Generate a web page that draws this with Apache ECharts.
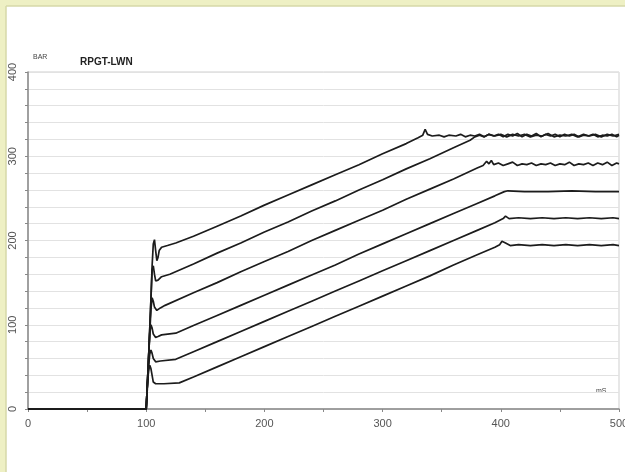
<!DOCTYPE html>
<html><head><meta charset="utf-8">
<script src="https://cdn.jsdelivr.net/npm/echarts@6/dist/echarts.min.js"></script>
<style>html,body{margin:0;padding:0;background:#fff;}#c{width:625px;height:472px;}</style>
</head><body><div id="c"></div>
<script>
const title = 'RPGT-LWN';
const yUnit = 'BAR';
const xUnit = 'mS';
const xTicks = [0, 100, 200, 300, 400, 500];
const yTicks = [0, 100, 200, 300, 400];

const s1 = [[0,0],[100,0],[102,60],[104,130],[105,170],[106,196],[107,201],[108,188],[109,176],[110,180],[111,188],[113,192],[118,194],[125,197],[140,205],[160,217],[180,229],[200,242],[220,254],[240,266],[260,278],[280,290],[300,303],[320,315],[330,322],[334,325],[336,332],[338,326],[342,324],[348,325],[352,323],[356,325],[362,324],[366,326],[370,323],[374,325],[378,324],[382,326],[386,323],[390,326],[394,324],[398,326],[402,323],[406,326],[410,324],[414,327],[418,323],[422,326],[426,324],[430,327],[434,323],[438,326],[442,324],[446,326],[450,323],[454,326],[458,324],[462,326],[466,323],[470,325],[474,324],[478,326],[482,323],[486,325],[490,324],[494,326],[498,323],[500,325]];
const s2 = [[0,0],[100,0],[102,60],[104,130],[105,165],[106,170],[107,160],[108,152],[110,153],[113,157],[120,160],[140,172],[160,185],[180,197],[200,210],[220,222],[240,235],[260,247],[280,260],[300,272],[320,285],[340,297],[360,310],[374,319],[378,323],[382,325],[386,323],[390,326],[395,324],[400,326],[405,323],[410,326],[415,324],[420,326],[425,323],[430,325],[435,324],[440,327],[445,323],[450,325],[455,324],[460,326],[465,323],[470,326],[475,324],[480,326],[485,323],[490,326],[495,324],[500,326]];
const s3 = [[0,0],[100,0],[102,60],[104,118],[105,132],[106,128],[107,121],[109,117],[112,120],[116,123],[140,138],[160,150],[180,163],[200,175],[220,187],[240,200],[260,212],[280,224],[300,236],[320,249],[340,261],[360,273],[380,286],[385,289],[388,294],[390,291],[392,295],[394,290],[398,292],[402,289],[406,291],[410,293],[414,289],[418,291],[422,290],[426,292],[430,289],[434,291],[438,290],[442,292],[446,289],[450,291],[454,290],[458,293],[462,289],[466,291],[470,290],[474,292],[478,289],[482,292],[486,290],[490,293],[494,289],[498,292],[500,291]];
const s4 = [[0,0],[100,0],[102,60],[103,90],[104,100],[105,96],[106,89],[108,85],[110,86],[113,88],[125,90],[140,99],[160,111],[180,123],[200,135],[220,147],[240,159],[260,171],[280,184],[300,196],[320,208],[340,220],[360,232],[380,244],[395,253],[403,258],[406,259],[420,258],[440,258],[460,259],[480,258],[500,258]];
const s5 = [[0,0],[100,0],[102,50],[103,65],[104,70],[105,66],[106,60],[108,56],[112,57],[125,59],[140,68],[160,80],[180,92],[200,104],[220,116],[240,128],[260,140],[280,152],[300,164],[320,176],[340,188],[360,200],[380,212],[395,221],[402,226],[404,229],[407,226],[415,227],[425,226],[435,227],[445,226],[455,227],[465,226],[475,227],[485,226],[495,227],[500,226]];
const s6 = [[0,0],[100,0],[101,30],[102,45],[103,52],[104,48],[105,40],[106,32],[108,30],[115,30],[128,31],[140,38],[160,50],[180,62],[200,74],[220,86],[240,98],[260,110],[280,122],[300,134],[320,146],[340,158],[360,171],[380,183],[395,192],[399,195],[401,199],[404,197],[408,194],[415,195],[425,194],[435,195],[445,194],[455,195],[465,194],[475,195],[485,194],[495,195],[500,194]];
const seriesData = [s1, s2, s3, s4, s5, s6];

const chart = echarts.init(document.getElementById('c'), null, {renderer: 'canvas'});
const FONT = 'Liberation Sans, Arial, sans-serif';
chart.setOption({
  animation: false,
  backgroundColor: '#ffffff',
  grid: {left: 28, top: 72, width: 591, height: 337, show: true, borderColor: '#cfcfcf', borderWidth: 1, containLabel: false, outerBoundsMode: 'none'},
  xAxis: {
    type: 'value', min: xTicks[0], max: xTicks[xTicks.length-1], interval: 100,
    axisLine: {show: true, onZero: false, lineStyle: {color: '#888', width: 1.5}},
    axisTick: {show: true, length: 3, lineStyle: {color: '#888'}},
    minorTick: {show: true, splitNumber: 2, length: 3, lineStyle: {color: '#888'}},
    splitLine: {show: false},
    axisLabel: {color: '#555', fontFamily: FONT, fontSize: 11, margin: 9}
  },
  yAxis: {
    type: 'value', min: yTicks[0], max: yTicks[yTicks.length-1], interval: 100,
    axisLine: {show: true, onZero: false, lineStyle: {color: '#888', width: 1.5}},
    axisTick: {show: true, length: 3, lineStyle: {color: '#888'}},
    minorTick: {show: true, splitNumber: 5, length: 3, lineStyle: {color: '#888'}},
    splitLine: {show: true, lineStyle: {color: '#e2e2e2'}},
    minorSplitLine: {show: true, lineStyle: {color: '#e2e2e2'}},
    axisLabel: {color: '#555', fontFamily: FONT, fontSize: 11, rotate: 90, margin: 15, align: 'center', verticalAlign: 'middle'}
  },
  series: seriesData.map(d => ({
    type: 'line', data: d, showSymbol: false, symbol: 'none', silent: true,
    lineStyle: {color: '#1c1c1c', width: 1.7}
  })),
  graphic: [
    {type: 'rect', shape: {x: 0, y: 0, width: 625, height: 6}, style: {fill: '#eef0c4'}, silent: true},
    {type: 'rect', shape: {x: 0, y: 0, width: 6, height: 472}, style: {fill: '#eef0c4'}, silent: true},
    {type: 'line', shape: {x1: 6, y1: 6, x2: 625, y2: 6}, style: {stroke: '#d6d9a8', lineWidth: 1.5}, silent: true},
    {type: 'line', shape: {x1: 6, y1: 6, x2: 6, y2: 472}, style: {stroke: '#d6d9a8', lineWidth: 1.5}, silent: true},
    {type: 'text', left: 33, top: 54, style: {text: yUnit, fontSize: 7, fontFamily: FONT, fill: '#444'}, silent: true},
    {type: 'text', left: 80, top: 57, style: {text: title, fontSize: 10, fontWeight: 'bold', fontFamily: FONT, fill: '#222'}, silent: true},
    {type: 'text', left: 596, top: 388, style: {text: xUnit, fontSize: 7, fontFamily: FONT, fill: '#444'}, silent: true}
  ]
});
</script></body></html>
